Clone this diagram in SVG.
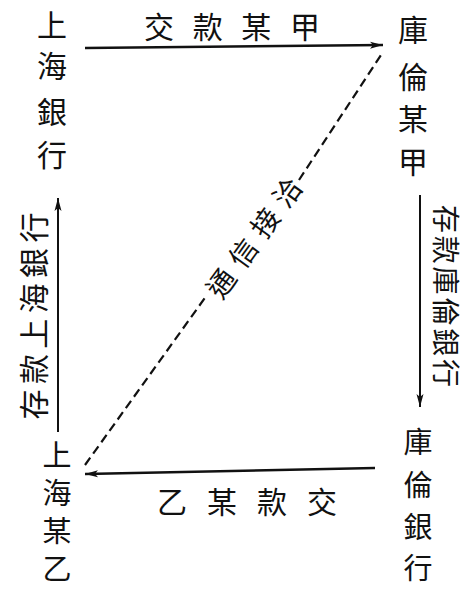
<svg xmlns="http://www.w3.org/2000/svg" width="472" height="590" viewBox="0 0 472 590">
<style>
.lbl{font-family:"Noto Sans CJK TC","Noto Sans CJK SC",sans-serif;fill:#111;}
.node{font-size:30px;text-anchor:middle;dominant-baseline:central;}
.edge{font-size:30px;text-anchor:middle;dominant-baseline:central;}
.ln{stroke:#111;fill:none;}
.dash{stroke:#111;stroke-width:2.2;stroke-dasharray:9 5;fill:none;}
</style>
<defs>
<marker id="ah" markerUnits="userSpaceOnUse" markerWidth="14" markerHeight="8" refX="13" refY="4" orient="auto">
<path d="M0,0.5 L13,4 L0,7.5 L3,4 z" fill="#111"/>
</marker>
</defs>
<rect width="472" height="590" fill="#fff"/>
<g id="connectors">
<line class="ln" x1="85" y1="48" x2="383" y2="45" stroke-width="2.5" marker-end="url(#ah)"/>
<line class="ln" x1="420" y1="195" x2="420" y2="407" stroke-width="2" marker-end="url(#ah)"/>
<line class="ln" x1="375" y1="468" x2="85" y2="474" stroke-width="2.5" marker-end="url(#ah)"/>
<line class="ln" x1="58" y1="432" x2="58" y2="198" stroke-width="2" marker-end="url(#ah)"/>
<line class="dash" x1="85" y1="465" x2="207" y2="295"/>
<line class="dash" x1="299" y1="180" x2="383" y2="52"/>
<text class="lbl edge" x="232" y="25" textLength="176" lengthAdjust="spacing">交款某甲</text>
<text class="lbl edge" x="247" y="500" textLength="180" lengthAdjust="spacing">乙某款交</text>
<text class="lbl edge" transform="translate(447 296) rotate(90)" x="0" y="0" textLength="182" lengthAdjust="spacing" style="font-size:28px">存款庫倫銀行</text>
<text class="lbl edge" transform="translate(32 316) rotate(-90)" x="0" y="0" textLength="207" lengthAdjust="spacing">存款上海銀行</text>
<text class="lbl edge" transform="translate(253 237) rotate(-54)" x="0" y="0" textLength="140" lengthAdjust="spacing" style="font-size:28px">通信接洽</text>
</g>
<g id="shanghai-bank" class="lbl node">
<text x="52" y="23">上</text>
<text x="52" y="64">海</text>
<text x="52" y="110">銀</text>
<text x="52" y="153">行</text>
</g>
<g id="kulun-jia" class="lbl node">
<text x="413" y="28">庫</text>
<text x="413" y="75">倫</text>
<text x="413" y="117">某</text>
<text x="413" y="160">甲</text>
</g>
<g id="shanghai-yi" class="lbl node" style="font-size:29px">
<text x="57" y="453">上</text>
<text x="57" y="491">海</text>
<text x="57" y="529">某</text>
<text x="57" y="567">乙</text>
</g>
<g id="kulun-bank" class="lbl node" style="font-size:29px">
<text x="418" y="440">庫</text>
<text x="418" y="483">倫</text>
<text x="418" y="525">銀</text>
<text x="418" y="566">行</text>
</g>
</svg>
